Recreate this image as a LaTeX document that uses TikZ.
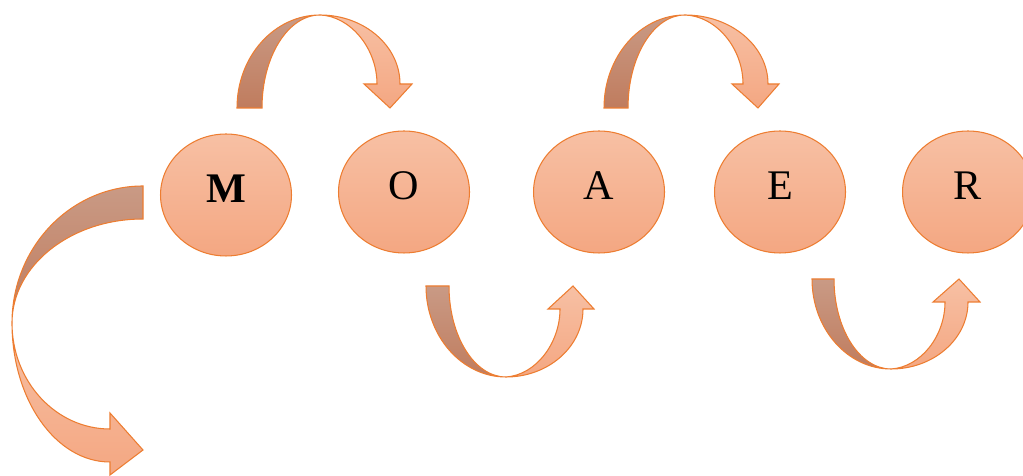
\documentclass[tikz,border=0pt]{standalone}
\usepackage{fontspec}
\setmainfont{Liberation Serif}
\usetikzlibrary{shapes.geometric}

\definecolor{rim}{HTML}{ED7D31}
\definecolor{peachtop}{HTML}{F7C0A4}
\definecolor{peachbot}{HTML}{F4A782}
\definecolor{backtop}{HTML}{C99A85}
\definecolor{backbot}{HTML}{C07C5E}

\begin{document}
\begin{tikzpicture}[x=0.02cm, y=0.02cm,
		bubble/.style = {ellipse, draw = rim, line width = 0.6pt, top color = peachtop, bottom color = peachbot,
			minimum width = 2.62cm, minimum height = 2.44cm, text depth = 0.24cm, inner sep = 0pt,
			font = \fontsize{24}{28}\selectfont},
		backband/.style = {draw = rim, line width = 0.6pt, top color = backtop, bottom color = backbot},
		frontband/.style = {draw = rim, line width = 0.6pt, top color = peachtop, bottom color = peachbot}]
	\useasboundingbox (0,0) rectangle (1023,476);

	\node[bubble] (m) at (226,281) {\textbf{M}};
	\node[bubble] (o) at (404,284) {O};
	\node[bubble] (a) at (599,284) {A};
	\node[bubble] (e) at (780,284) {E};
	\node[bubble] (r) at (968,284) {R};

	% arrows over the top
	\draw[backband] (237,368) arc (180:90:83 and 93) arc (90:180:58 and 93) -- cycle;
	\draw[frontband] (320,461) arc (90:0:80 and 69) -- (412,392) -- (390,368) -- (364,392) -- (377,392)
		.. controls (377,428) and (350,460) .. (320,461) -- cycle;
	\draw[backband] (604,368) arc (180:90:81 and 93) arc (90:180:57 and 93) -- cycle;
	\draw[frontband] (685,461) arc (90:0:83 and 69) -- (779,392) -- (758,368) -- (732,392) -- (743,392)
		.. controls (743,428) and (716,460) .. (685,461) -- cycle;

	% arrows underneath
	\draw[backband] (426,190) arc (180:270:80 and 91) arc (270:180:57 and 91) -- cycle;
	\draw[frontband] (506,99) arc (270:360:77 and 68) -- (594,167) -- (573,190) -- (548,167) -- (560,167)
		.. controls (560,133) and (536,101) .. (506,99) -- cycle;
	\draw[backband] (812,197) arc (180:270:79 and 90) arc (270:180:57 and 90) -- cycle;
	\draw[frontband] (891,107) arc (270:360:77 and 67) -- (980,174) -- (959,197) -- (933,174) -- (945,174)
		.. controls (945,140) and (921,109) .. (891,107) -- cycle;

	% big arrow on the left
	\draw[backband] (143,290) arc (90:180:131 and 137) arc (180:90:131 and 104) -- cycle;
	\draw[frontband] (12,153) arc (180:270:98 and 139) -- (110,1) -- (143,26) -- (110,63) -- (110,47)
		arc (270:180:98 and 106) -- cycle;
\end{tikzpicture}
\end{document}
